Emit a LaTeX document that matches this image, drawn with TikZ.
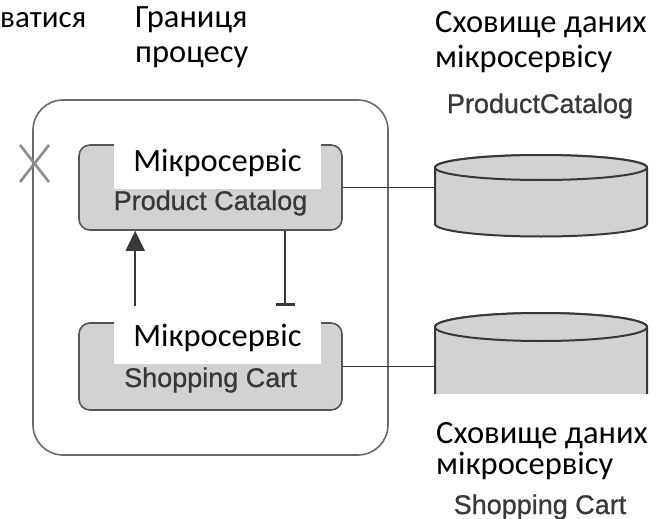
\documentclass[tikz,border=0pt]{standalone}
\usepackage{fontspec}
\setmainfont{Carlito}
\newfontfamily\helv[FakeBold=0.8]{Liberation Sans}
\usetikzlibrary{arrows.meta,calc}
\definecolor{boxfill}{HTML}{D2D2D2}
\definecolor{boxline}{HTML}{555555}
\definecolor{frameline}{HTML}{6A6A6A}
\definecolor{dbline}{HTML}{383838}
\definecolor{engtext}{HTML}{383838}
\definecolor{xmark}{HTML}{8C8C8C}
\begin{document}
\begin{tikzpicture}[x=1pt,y=-1pt,
  ua/.style={font=\fontsize{32.5}{36}\selectfont, inner sep=0pt, text=black},
  en/.style={font=\helv\fontsize{27}{30}\selectfont, inner sep=0pt, text=engtext},
  service/.style={draw=boxline, line width=1.6pt, fill=boxfill, rounded corners=11pt,
                  inner sep=0pt, minimum width=263pt},
  tag/.style={fill=white, inner sep=0pt, font=\fontsize{32.5}{36}\selectfont, minimum width=207pt},
  link/.style={draw=dbline, line width=1.5pt},
  db/.style={draw=dbline, line width=2pt, fill=boxfill}]
\useasboundingbox (0,0) rectangle (672,519);
\fill[white] (0,0) rectangle (672,519);

% process boundary with the scaling mark
\draw[frameline, line width=1.6pt, rounded corners=30pt] (33,100) rectangle (388,455);
\draw[xmark, line width=2.6pt] (20,145) -- (49,182) (49,145) -- (20,182);

% services
\node[service, en, minimum height=85pt, text height=52pt, text depth=7pt] (pc) at (210.5,187.5) {Product Catalog};
\node[service, en, minimum height=87pt, text height=48pt, text depth=7pt] (sc) at (210.5,366.5) {Shopping Cart};

% calls between the services
\coordinate (upFrom) at ([xshift=57pt]sc.north west);
\coordinate (upTo) at ([xshift=57pt]pc.south west);
\draw[link, -{Triangle[width=19pt,length=20pt]}] (upFrom) -- (upTo);
\coordinate (teeFrom) at ([xshift=207pt]pc.south west);
\coordinate (teeTo) at ([xshift=207pt,yshift=16.5pt]sc.north west);
\draw[link, -{Bar[width=19pt,line width=3pt]}] (teeFrom) -- (teeTo);

% service captions
\node[tag, minimum height=51pt, text height=22pt, text depth=7pt] (pcTag) at (217.5,163.5) {Мікросервіс};
\node[tag, minimum height=58pt, text height=29pt, text depth=7pt] (scTag) at (217.5,335) {Мікросервіс};

% data store of Product Catalog
\draw[db] (435,167.5) -- (435,224) arc[start angle=180,end angle=0,x radius=106,y radius=12.5]
  -- (647,167.5) arc[start angle=0,end angle=-180,x radius=106,y radius=12.5] -- cycle;
\draw[db] (541,167.5) ellipse[x radius=106, y radius=12.5];
\coordinate (db1) at (435,196);
\draw[link] (pc.east) -- (pc.east -| db1);

% data store of Shopping Cart
\draw[db] (435,327) -- (435,420) arc[start angle=180,end angle=0,x radius=106,y radius=14]
  -- (647,327) arc[start angle=0,end angle=-180,x radius=106,y radius=14] -- cycle;
\draw[db] (541,327) ellipse[x radius=106, y radius=14];
\coordinate (db2) at (435,360);
\draw[link] (sc.east) -- (sc.east -| db2);
\fill[white] (433,394) rectangle (652,492);

% labels
\node[ua, font=\fontsize{31}{35}\selectfont, anchor=base west] (scaleTail) at (0,28) {ватися};
\node[ua, anchor=base west] (bound1) at (135,28) {Границя};
\node[ua, anchor=base west] (bound2) at (135,63) {процесу};
\node[ua, anchor=base west] (store1a) at (435,33) {Сховище даних};
\node[ua, anchor=base west] (store1b) at (435,67) {мікросервісу};
\node[en, anchor=base] (store1c) at (540,113) {ProductCatalog};
\node[ua, anchor=base west] (store2a) at (436,443) {Сховище даних};
\node[ua, anchor=base west] (store2b) at (436,474) {мікросервісу};
\node[en, anchor=base] (store2c) at (540,514) {Shopping Cart};
\end{tikzpicture}
\end{document}
